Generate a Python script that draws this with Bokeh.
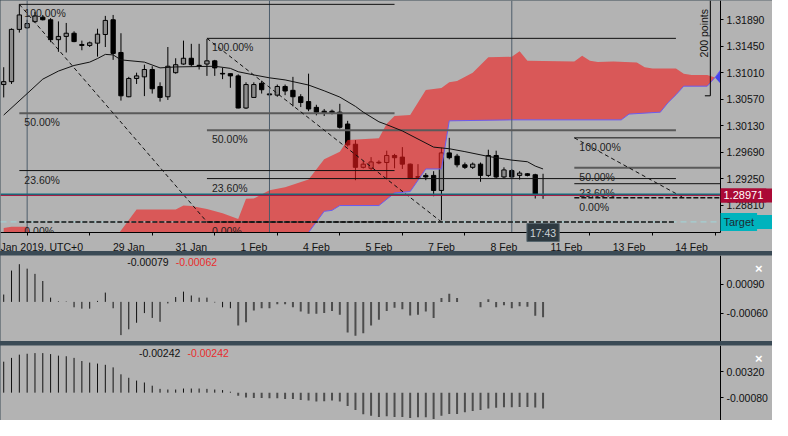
import numpy as np
from bokeh.plotting import figure
from bokeh.layouts import column
from bokeh.models import Range1d, FixedTicker, PrintfTickFormatter, Label, LinearAxis
from bokeh.core.properties import value
from bokeh.embed import file_html
from bokeh.resources import INLINE

# ---------------- data ----------------
bar_open = [1.30813, 1.30861, 1.31730, 1.31757, 1.31858, 1.31933, 1.31890, 1.31559, 1.31613, 1.31666,
            1.31479, 1.31463, 1.31501, 1.31645, 1.31890, 1.31346, 1.30610, 1.30914, 1.30941, 1.31063,
            1.30781, 1.30610, 1.31010, 1.31154, 1.31250, 1.31133, 1.31154, 1.31207, 1.30999, 1.30994,
            1.30957, 1.30423, 1.30599, 1.30834, 1.30658, 1.30637, 1.30781, 1.30717, 1.30610, 1.30530,
            1.30434, 1.30370, 1.30370, 1.30354, 1.30157, 1.29821, 1.29437, 1.29421, 1.29522, 1.29517,
            1.29634, 1.29607, 1.29490, 1.29282, 1.29303, 1.29303, 1.29053, 1.29677, 1.29623, 1.29479,
            1.29437, 1.29490, 1.29303, 1.29634, 1.29277, 1.29383, 1.29303, 1.29330, 1.29314, 1.28983]
bar_high = [1.31101, 1.31746, 1.32146, 1.31890, 1.32018, 1.31970, 1.31917, 1.31863, 1.31837, 1.31698,
            1.31543, 1.31527, 1.31741, 1.31954, 1.31970, 1.31666, 1.30941, 1.31010, 1.31143, 1.31117,
            1.30850, 1.31437, 1.31250, 1.31543, 1.31490, 1.31490, 1.31570, 1.31223, 1.31090, 1.30994,
            1.30983, 1.30850, 1.30850, 1.30877, 1.30722, 1.30813, 1.30813, 1.30941, 1.30653, 1.30994,
            1.30477, 1.30407, 1.30397, 1.30493, 1.30210, 1.29890, 1.29543, 1.29607, 1.29554, 1.29714,
            1.29661, 1.29773, 1.29501, 1.29490, 1.29341, 1.29373, 1.29762, 1.29927, 1.29661, 1.29517,
            1.29517, 1.29517, 1.29730, 1.29714, 1.29437, 1.29410, 1.29373, 1.29341, 1.29330, 1.29330]
bar_low = [1.30599, 1.30823, 1.31677, 1.31741, 1.31842, 1.31879, 1.31517, 1.31357, 1.31346, 1.31517,
           1.31383, 1.31437, 1.31277, 1.31437, 1.31223, 1.30546, 1.30602, 1.30823, 1.30621, 1.30663,
           1.30530, 1.30557, 1.30994, 1.31143, 1.31117, 1.31063, 1.30957, 1.30957, 1.30903, 1.30759,
           1.30418, 1.30407, 1.30594, 1.30663, 1.30594, 1.30610, 1.30637, 1.30450, 1.30439, 1.30370,
           1.30301, 1.30290, 1.30317, 1.30082, 1.29783, 1.29223, 1.29418, 1.29383, 1.29490, 1.29250,
           1.29421, 1.29410, 1.29250, 1.29261, 1.29223, 1.28957, 1.28557, 1.29570, 1.29437, 1.29410,
           1.29410, 1.29197, 1.29277, 1.29250, 1.29250, 1.29261, 1.29234, 1.29287, 1.28919, 1.28914]
bar_close = [1.30861, 1.31730, 1.31970, 1.31826, 1.31954, 1.31890, 1.31559, 1.31613, 1.31666, 1.31527,
             1.31463, 1.31506, 1.31650, 1.31879, 1.31330, 1.30626, 1.30914, 1.30957, 1.31063, 1.30743,
             1.30599, 1.31117, 1.31143, 1.31250, 1.31143, 1.31124, 1.31207, 1.31090, 1.30989, 1.30957,
             1.30423, 1.30813, 1.30813, 1.30727, 1.30642, 1.30781, 1.30706, 1.30610, 1.30514, 1.30407,
             1.30354, 1.30343, 1.30343, 1.30103, 1.29810, 1.29437, 1.29490, 1.29527, 1.29511, 1.29634,
             1.29597, 1.29490, 1.29261, 1.29272, 1.29277, 1.29053, 1.29677, 1.29597, 1.29479, 1.29437,
             1.29490, 1.29303, 1.29634, 1.29277, 1.29394, 1.29277, 1.29341, 1.29303, 1.28983, 1.28971]

# moving average (Kijun-like line)
ma_idx = [0, 3, 5, 7, 9, 11, 12, 13, 14, 15, 18, 20, 22, 27, 29, 30, 32, 34, 36, 39, 41, 43, 45, 46,
          48, 49, 51, 55, 57, 59, 62, 65, 67, 68, 69]
ma_val = [1.30306, 1.30663, 1.30903, 1.31037, 1.31130, 1.31186, 1.31245, 1.31314, 1.31306, 1.31223,
          1.31186, 1.31090, 1.31106, 1.31117, 1.31082, 1.31026, 1.30973, 1.30925, 1.30890, 1.30805,
          1.30709, 1.30605, 1.30450, 1.30354, 1.30194, 1.30146, 1.30042, 1.29773, 1.29746, 1.29698,
          1.29618, 1.29557, 1.29530, 1.29458, 1.29410]

# Ichimoku cloud spans
spanb_idx = [0, 1, 3, 4, 14, 15, 17, 22, 23, 24, 26, 28, 30, 31, 32, 34, 36, 39, 41, 43, 44, 48, 49, 50,
             52, 54, 56, 57, 58, 60, 62, 65, 66, 67, 73, 74, 75, 76, 78, 81, 82, 83, 86, 87, 88, 90, 91, 92]
spanb_val = [1.28429, 1.28450, 1.28450, 1.28210, 1.28210, 1.28386, 1.28738, 1.28738, 1.28802, 1.28794,
             1.28746, 1.28674, 1.28578, 1.28914, 1.28919, 1.29058, 1.29106, 1.29234, 1.29570, 1.29698,
             1.29890, 1.29922, 1.30162, 1.30290, 1.30306, 1.30722, 1.30754, 1.30850, 1.30874, 1.31010,
             1.31266, 1.31274, 1.31367, 1.31207, 1.31197, 1.31293, 1.31207, 1.31186, 1.31197, 1.31181,
             1.31101, 1.31079, 1.31079, 1.30994, 1.30973, 1.30973, 1.30930, 1.30786]
spana_idx = [0, 37, 38, 39, 41, 42, 43, 48, 50, 52, 54, 56, 57, 65, 79, 80, 84, 85, 86, 87, 90, 91, 92]
spana_val = [1.27890, 1.27890, 1.28178, 1.28354, 1.28706, 1.28722, 1.28802, 1.28802, 1.29010, 1.29034,
             1.29410, 1.29410, 1.30210, 1.30226, 1.30226, 1.30322, 1.30354, 1.30514, 1.30642, 1.30786,
             1.30786, 1.30930, 1.31106]

# Fibonacci retracements
fib_start_idx = [2, 26, 73]
fib_start_price = [1.32146, 1.31581, 1.29927]
fib_end_idx = [26, 56, 87]
fib_end_price = [1.28530, 1.28530, 1.28930]
fib_extend_idx = [50, 86, 96]
fib_levels = [1.0, 0.5, 0.236, 0.0]
fib_level_text = ["100.00%", "50.00%", "23.60%", "0.00%"]

bid_price = 1.28971
ask_price = 1.28985
target_price = 1.28530
separator_idx = [3, 34, 65]
time_label = "17:43"

price_ticks = [1.31890, 1.31450, 1.31010, 1.30570, 1.30130, 1.29690, 1.29250, 1.28810]
date_tick_idx = [4, 16, 24, 32, 40, 48, 56, 64, 72, 80, 88]
date_labels = ["Jan 2019, UTC+0", "29 Jan", "31 Jan", "1 Feb", "4 Feb", "5 Feb", "7 Feb", "8 Feb",
               "11 Feb", "13 Feb", "14 Feb"]
minor_tick_idx = [3, 11, 19, 27, 35, 43, 51, 59, 67, 75, 83, 91]

osc1 = [0.00038, 0.00162, 0.00195, 0.00172, 0.00145, 0.00108, 0.00022, 0.00003, 0.00002, -0.00028,
        -0.00035, -0.00035, 0.00005, 0.00048, -0.00033, -0.00172, -0.00142, -0.00108, -0.00058, -0.00083,
        -0.00103, -0.00008, 0.00025, 0.00053, 0.00033, 0.00022, 0.00022, -0.00003, -0.00028, -0.00033,
        -0.00122, -0.00105, -0.00045, -0.00033, -0.00033, -0.00012, -0.00012, -0.00028, -0.00050, -0.00062,
        -0.00062, -0.00058, -0.00047, -0.00067, -0.00158, -0.00175, -0.00162, -0.00122, -0.00092, -0.00047,
        -0.00030, -0.00038, -0.00070, -0.00067, -0.00050, -0.00083, 0.00020, 0.00042, 0.00020, 0.0,
        0.0, -0.00028, 0.00013, -0.00028, -0.00017, -0.00033, -0.00022, -0.00025, -0.00072, -0.00079]
osc1_ticks = [0.00090, -0.00060]
osc1_texts = ["-0.00079", "-0.00062"]

osc2 = [0.00473, 0.00531, 0.00580, 0.00594, 0.00604, 0.00604, 0.00589, 0.00565, 0.00556, 0.00531,
        0.00483, 0.00459, 0.00444, 0.00425, 0.00386, 0.00280, 0.00227, 0.00184, 0.00155, 0.00106,
        0.00058, 0.00048, 0.00048, 0.00063, 0.00063, 0.00063, 0.00058, 0.00048, 0.00039, 0.00014,
        -0.00048, -0.00072, -0.00082, -0.00082, -0.00087, -0.00087, -0.00097, -0.00097, -0.00111, -0.00121,
        -0.00135, -0.00130, -0.00121, -0.00135, -0.00203, -0.00266, -0.00329, -0.00353, -0.00372, -0.00362,
        -0.00372, -0.00372, -0.00386, -0.00377, -0.00377, -0.00401, -0.00353, -0.00324, -0.00324, -0.00300,
        -0.00280, -0.00266, -0.00242, -0.00232, -0.00222, -0.00222, -0.00217, -0.00217, -0.00227, -0.00242]
osc2_ticks = [0.00320, -0.00080]
osc2_texts = ["-0.00242", "-0.00242"]

# ---------------- geometry / style ----------------
FONT = "Liberation Sans"
BG = "#b3b3b3"
SEP = "#3a4a55"
W = 772                 # figure width (frame covers the whole canvas; axes are pinned inside)
PW = 720                # width of the price/time plotting area
X0, X1 = -0.41, 91.7    # visible bar range of the plotting area
XR = X0 + (X1 - X0) * W / PW
H_MAIN, PH = 251, 232
Y_TOP, Y_AX = 1.32210, 1.28354
Y_BOT = Y_TOP - (Y_TOP - Y_AX) * H_MAIN / PH
TAG_HALF = 7 * (Y_TOP - Y_AX) / PH       # half height of a price tag (7 px)


def base_fig(h, yr):
    f = figure(frame_width=W, frame_height=h, x_range=Range1d(X0, XR), y_range=yr,
               x_axis_location=None, y_axis_location=None,
               toolbar_location=None, output_backend="svg",
               background_fill_color=BG, border_fill_color=BG,
               min_border_left=0, min_border_top=0, min_border_right=0, min_border_bottom=0)
    f.outline_line_color = None
    f.grid.visible = False
    return f


def value_axis(f, ticks, bounds="auto"):
    ax = LinearAxis(fixed_location=X1, ticker=FixedTicker(ticks=ticks, minor_ticks=[]),
                    formatter=PrintfTickFormatter(format="%.5f"), bounds=bounds)
    ax.major_tick_out = 3
    ax.major_tick_in = 0
    ax.minor_tick_out = 0
    ax.minor_tick_in = 0
    ax.major_label_standoff = 3
    ax.major_label_text_font = FONT
    ax.major_label_text_font_size = "10.5px"
    ax.major_label_text_color = "#111111"
    ax.axis_line_color = "black"
    ax.major_tick_line_color = "black"
    f.add_layout(ax, "right")
    return ax


# ---------------- main chart ----------------
p = base_fig(H_MAIN, Range1d(Y_BOT, Y_TOP))

# candles
idx = list(range(len(bar_open)))
o = np.array(bar_open)
c = np.array(bar_close)
bull = c >= o
body_top = np.maximum(o, c)
body_bot = np.minimum(o, c)
fills = ["#8c8c8c" if b else "#000000" for b in bull]
p.segment(x0=idx, y0=bar_low, x1=idx, y1=bar_high, line_color="black", line_width=1)
p.vbar(x=idx, top=body_top, bottom=body_bot, width=0.55, fill_color=fills, line_color="black",
       line_width=1)

# cloud (drawn over the candles, tinting them dark red as in the terminal)
red_x = [i for i in spanb_idx if i <= 91] + [i for i in spana_idx if i <= 91][::-1]
red_y = [v for i, v in zip(spanb_idx, spanb_val) if i <= 91] + \
        [v for i, v in zip(spana_idx, spana_val) if i <= 91][::-1]
p.patch(red_x, red_y, fill_color="#f21a1a", fill_alpha=0.6, line_color=None)
blue_x = [i for i in spana_idx if i >= 91] + [i for i in spanb_idx if i >= 91][::-1]
blue_y = [v for i, v in zip(spana_idx, spana_val) if i >= 91] + \
         [v for i, v in zip(spanb_idx, spanb_val) if i >= 91][::-1]
p.patch(blue_x, blue_y, fill_color="#1f1fff", fill_alpha=0.75, line_color=None)
p.line(spana_idx, spana_val, line_color="#6a5cf0", line_width=1)

# period separators
p.segment(x0=separator_idx, y0=[Y_AX] * 3, x1=separator_idx, y1=[Y_TOP] * 3,
          line_color="#4d5d6b", line_width=1)

# target line
p.segment(x0=[X0], y0=[target_price], x1=[X1], y1=[target_price], line_color="#9fd6da",
          line_dash="6 4", line_width=1)

# fibonacci
for k in range(3):
    ps, pe = fib_start_price[k], fib_end_price[k]
    xs, xe, xx = fib_start_idx[k], fib_end_idx[k], fib_extend_idx[k]
    lv_prices = [pe + (ps - pe) * lv for lv in fib_levels]
    for lv, pr in zip(fib_levels, lv_prices):
        if lv == 0.5:
            p.segment(x0=[xs], y0=[pr], x1=[xx], y1=[pr], line_color="#5a5a5a", line_width=2)
        elif lv == 0.0:
            p.segment(x0=[xs], y0=[pr], x1=[xx], y1=[pr], line_color="#111111", line_width=1.5,
                      line_dash="5 2")
        else:
            p.segment(x0=[xs], y0=[pr], x1=[xx], y1=[pr], line_color="#111111", line_width=1)
    p.text(x=[xs] * 4, y=lv_prices, text=fib_level_text, x_offset=5, y_offset=3,
           text_baseline="top", text_align="left", text_font=value(FONT),
           text_font_size="10.5px", text_color="#1e1e1e")
    p.segment(x0=[xs], y0=[ps], x1=[xe], y1=[pe], line_color="#111111", line_width=1,
              line_dash="4 3")

# bid / ask lines
p.segment(x0=[X0], y0=[ask_price], x1=[X1], y1=[ask_price], line_color="#0e6f7e", line_width=2)
p.segment(x0=[X0], y0=[bid_price], x1=[X1], y1=[bid_price], line_color="#b0103a", line_width=1)

# moving average
p.line(ma_idx, ma_val, line_color="#111111", line_width=1)

# 200 points ruler
ruler_top, ruler_bottom = 1.32210, 1.30626
p.segment(x0=[90.4], y0=[ruler_top], x1=[90.4], y1=[ruler_bottom], line_color="black", line_width=1)
p.segment(x0=[89.7], y0=[ruler_bottom], x1=[90.4], y1=[ruler_bottom], line_color="black", line_width=1)
p.text(x=[89.55], y=[1.31666], text=["200 points"], angle=np.pi / 2, text_align="center",
       text_baseline="middle", text_font=value(FONT), text_font_size="10.5px", text_color="#111111")

# masks over the axis areas (plot content stops at the axes)
p.quad(left=[X1], right=[XR], bottom=[Y_BOT], top=[Y_TOP], fill_color=BG, line_color=None)
p.quad(left=[X0], right=[X1], bottom=[Y_BOT], top=[Y_AX], fill_color=BG, line_color=None)

# price tags (full-width coloured boxes in the axis column)
TAG_RED, TAG_TEAL = "#ab0a36", "#00b3bd"
p.quad(left=[X1, X1], right=[XR, XR], bottom=[bid_price - TAG_HALF, target_price - TAG_HALF],
       top=[bid_price + TAG_HALF, target_price + TAG_HALF], fill_color=[TAG_RED, TAG_TEAL],
       line_color=None)

# axes pinned at the edges of the plotting area
value_axis(p, price_ticks, bounds=(Y_AX, Y_TOP))
da = LinearAxis(fixed_location=Y_AX, bounds=(X0, X1),
                ticker=FixedTicker(ticks=date_tick_idx, minor_ticks=minor_tick_idx))
da.major_label_overrides = {t: s for t, s in zip(date_tick_idx, date_labels)}
da.major_tick_out = 0
da.major_tick_in = 0
da.minor_tick_out = 3
da.minor_tick_in = 0
da.major_label_standoff = 5
da.major_label_text_font = FONT
da.major_label_text_font_size = "10.5px"
da.major_label_text_color = "#111111"
da.axis_line_color = "black"
da.minor_tick_line_color = "black"
p.add_layout(da, "below")

# tag texts (label backgrounds cover the axis labels underneath)
p.add_layout(Label(x=X1, y=bid_price, text="1.28971", text_baseline="middle", text_align="left",
                   text_font=FONT, text_font_size="11px", text_color="white",
                   background_fill_color=TAG_RED, padding=3))
p.add_layout(Label(x=X1, y=target_price, text="Target", text_baseline="middle", text_align="left",
                   text_font=FONT, text_font_size="11px", text_color="#1c2a33",
                   background_fill_color=TAG_TEAL, padding=3))
p.add_layout(Label(x=idx[-1], y=Y_AX, text=time_label, text_baseline="middle", text_align="center",
                   text_font=FONT, text_font_size="10.5px", text_color="#cfd4d6",
                   background_fill_color="#2e3a41", border_line_color="#56656d", padding=3))

# ---------------- oscillator 1 ----------------
p2 = base_fig(86, Range1d(-0.00205, 0.0024))
p2.x_range = p.x_range
cols = ["#111111" if i < 30 else "#4d4d4d" for i in idx]
wids = [1 if i < 30 else 2 for i in idx]
p2.segment(x0=idx, y0=[0] * len(idx), x1=idx, y1=osc1, line_color=cols, line_width=wids)
value_axis(p2, osc1_ticks)
p2.add_layout(Label(x=15.8, y=0.00205, text=osc1_texts[0], text_baseline="middle", text_font=FONT,
                    text_font_size="10.5px", text_color="#111111"))
p2.add_layout(Label(x=22.0, y=0.00205, text=osc1_texts[1], text_baseline="middle", text_font=FONT,
                    text_font_size="10.5px", text_color="#e82c2c"))
p2.add_layout(Label(x=96.6, y=0.00175, text="\u00d7", text_baseline="middle", text_align="center",
                    text_font=FONT, text_font_size="13px", text_font_style="bold", text_color="white"))

# ---------------- oscillator 2 ----------------
p3 = base_fig(75, Range1d(-0.00425, 0.0072))
p3.x_range = p.x_range
p3.segment(x0=idx, y0=[0] * len(idx), x1=idx, y1=osc2, line_color=cols, line_width=wids)
value_axis(p3, osc2_ticks)
p3.add_layout(Label(x=17.3, y=0.00604, text=osc2_texts[0], text_baseline="middle", text_font=FONT,
                    text_font_size="10.5px", text_color="#111111"))
p3.add_layout(Label(x=23.5, y=0.00604, text=osc2_texts[1], text_baseline="middle", text_font=FONT,
                    text_font_size="10.5px", text_color="#e82c2c"))
p3.add_layout(Label(x=96.6, y=0.00517, text="\u00d7", text_baseline="middle", text_align="center",
                    text_font=FONT, text_font_size="13px", text_font_style="bold", text_color="white"))

layout = column(p, p2, p3, spacing=4, styles={"background-color": SEP})

open("out.html", "w").write(file_html(layout, INLINE))
